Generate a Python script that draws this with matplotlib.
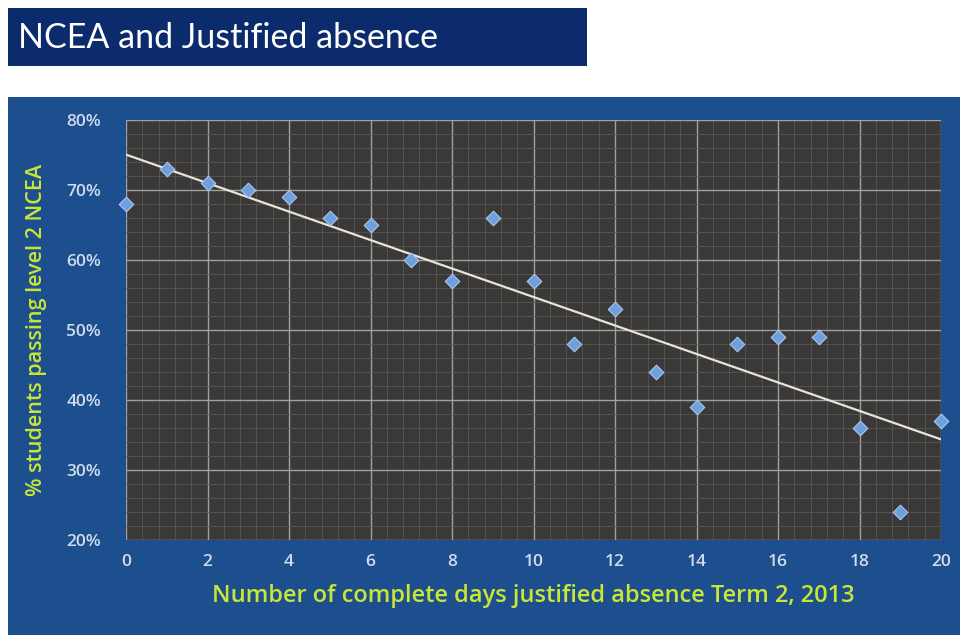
import numpy as np
import matplotlib.pyplot as plt
from matplotlib.patches import Rectangle
from matplotlib.ticker import MultipleLocator, PercentFormatter

# days of justified absence and % passing level 2
days = list(range(0, 21))
pass_pct = [68, 73, 71, 70, 69, 66, 65, 60, 57, 66, 57,
            48, 53, 44, 39, 48, 49, 49, 36, 24, 37]

title = "NCEA and Justified absence"
xlabel = "Number of complete days justified absence Term 2, 2013"
ylabel = "% students passing level 2 NCEA"

fig = plt.figure(figsize=(9.6, 6.35), dpi=100)
fig.patch.set_facecolor("white")

# blue chart panel and the title bar, drawn on a background axes
bg = fig.add_axes([0, 0, 1, 1], zorder=-10)
bg.set_xlim(0, 960)
bg.set_ylim(635, 0)
bg.axis("off")
bg.add_patch(Rectangle((8, 97), 952, 538, facecolor="#1d4f8e", edgecolor="none"))
bg.add_patch(Rectangle((8, 8), 579, 58, facecolor="#0b2b6c", edgecolor="none"))
bg.text(18, 38, title, color="white", fontsize=24.5, family="Lato",
        va="center", ha="left")

ax = fig.add_axes([126 / 960, 95 / 635, 815 / 960, 420 / 635])
ax.set_facecolor("#3a3937")

ax.set_xlim(0, 20)
ax.set_ylim(20, 80)
ax.xaxis.set_major_locator(MultipleLocator(2))
ax.xaxis.set_minor_locator(MultipleLocator(0.4))
ax.yaxis.set_major_locator(MultipleLocator(10))
ax.yaxis.set_minor_locator(MultipleLocator(2))
ax.yaxis.set_major_formatter(PercentFormatter(decimals=0))

ax.grid(which="major", color="#a0a0a0", linewidth=1.0)
ax.grid(which="minor", color="#585858", linewidth=0.6)
ax.set_axisbelow(True)
for s in ax.spines.values():
    s.set_visible(False)
ax.tick_params(which="both", length=0, colors="#cfdcee", labelsize=12.5, pad=10)
ax.tick_params(axis="y", pad=18)
for lab in ax.get_xticklabels() + ax.get_yticklabels():
    lab.set_family("Open Sans")
    lab.set_fontweight("semibold")

# linear trendline
k, b = np.polyfit(days, pass_pct, 1)
xs = np.array([0, 20])
ax.plot(xs, k * xs + b, color="#e8e4d8", linewidth=1.6, zorder=3)

ax.scatter(days, pass_pct, marker="D", s=55, color="#6f9fdc",
           edgecolors="#a8c8f0", linewidths=0.8, zorder=4, clip_on=False)

ax.set_xlabel(xlabel, color="#c9e636", fontsize=17, family="Open Sans",
              fontweight="semibold", labelpad=10)
ax.set_ylabel(ylabel, color="#c9e636", fontsize=15.5, family="Open Sans",
              fontweight="semibold", labelpad=14)

fig.savefig("out.png", dpi=100)
